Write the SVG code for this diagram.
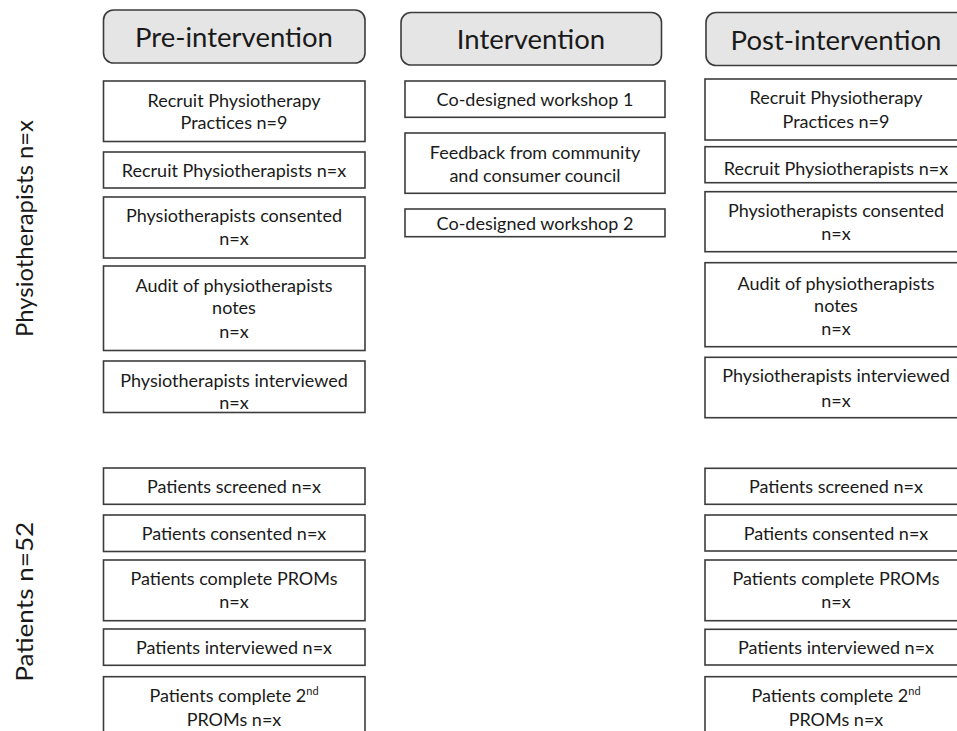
<svg xmlns="http://www.w3.org/2000/svg" width="957" height="731" viewBox="0 0 957 731">
<style>
.bx{fill:#fff;stroke:#3c3c3c;stroke-width:1.6}
.hd{fill:#e5e5e5;stroke:#3c3c3c;stroke-width:1.6}
text{font-family:Lato,"Open Sans",sans-serif;fill:#1a1a1a;text-anchor:middle}
.t{font-size:18px}
.h{font-size:27.5px}
.s{font-size:24px}
.sup{font-size:11px}
</style>
<rect width="957" height="731" fill="#fff"/>
<g id="connectors"></g>
<g id="label-physio"><text class="s" transform="translate(33,228.5) rotate(-90)" textLength="217" lengthAdjust="spacingAndGlyphs">Physiotherapists n=x</text></g>
<g id="label-patients"><text class="s" transform="translate(33,601.7) rotate(-90)" textLength="160" lengthAdjust="spacingAndGlyphs">Patients n=52</text></g>

<g id="pre-header"><rect class="hd" x="103.5" y="10" width="261.5" height="53" rx="10"/><text class="h" x="234" y="46.5">Pre-intervention</text></g>
<g id="pre-1"><rect class="bx" x="103.5" y="81" width="261.5" height="60.5"/><text class="t" x="234" y="106.5">Recruit Physiotherapy</text><text class="t" x="234" y="129">Practices n=9</text></g>
<g id="pre-2"><rect class="bx" x="103.5" y="152" width="261.5" height="36"/><text class="t" x="234" y="176.5">Recruit Physiotherapists n=x</text></g>
<g id="pre-3"><rect class="bx" x="103.5" y="197" width="261.5" height="61"/><text class="t" x="234" y="222">Physiotherapists consented</text><text class="t" x="234" y="245">n=x</text></g>
<g id="pre-4"><rect class="bx" x="103.5" y="266" width="261.5" height="84.5"/><text class="t" x="234" y="291.5">Audit of physiotherapists</text><text class="t" x="234" y="314">notes</text><text class="t" x="234" y="337.5">n=x</text></g>
<g id="pre-5"><rect class="bx" x="103.5" y="361" width="261.5" height="51.5"/><text class="t" x="234" y="386.5">Physiotherapists interviewed</text><text class="t" x="234" y="409">n=x</text></g>
<g id="pre-6"><rect class="bx" x="103.5" y="468" width="261.5" height="36.3"/><text class="t" x="234" y="493">Patients screened n=x</text></g>
<g id="pre-7"><rect class="bx" x="103.5" y="515" width="261.5" height="36.5"/><text class="t" x="234" y="540">Patients consented n=x</text></g>
<g id="pre-8"><rect class="bx" x="103.5" y="560" width="261.5" height="60.7"/><text class="t" x="234" y="585">Patients complete PROMs</text><text class="t" x="234" y="608">n=x</text></g>
<g id="pre-9"><rect class="bx" x="103.5" y="629" width="261.5" height="36.3"/><text class="t" x="234" y="653.5">Patients interviewed n=x</text></g>
<g id="pre-10"><rect class="bx" x="103.5" y="676.7" width="261.5" height="70"/><text class="t" x="234" y="701.5">Patients complete 2<tspan class="sup" dy="-7">nd</tspan></text><text class="t" x="234" y="725.5">PROMs n=x</text></g>

<g id="int-header"><rect class="hd" x="401" y="12.5" width="260.5" height="52.5" rx="10"/><text class="h" x="531" y="48.5">Intervention</text></g>
<g id="int-1"><rect class="bx" x="405" y="81" width="260" height="36.3"/><text class="t" x="535" y="106">Co-designed workshop 1</text></g>
<g id="int-2"><rect class="bx" x="405" y="133" width="260" height="60.3"/><text class="t" x="535" y="158.5">Feedback from community</text><text class="t" x="535" y="181.5">and consumer council</text></g>
<g id="int-3"><rect class="bx" x="405" y="209" width="260" height="27.7"/><text class="t" x="535" y="229.5">Co-designed workshop 2</text></g>

<g id="post-header"><rect class="hd" x="706" y="12.5" width="270" height="53" rx="10"/><text class="h" x="836" y="49.5">Post-intervention</text></g>
<g id="post-1"><rect class="bx" x="705" y="79" width="262" height="61"/><text class="t" x="836" y="104">Recruit Physiotherapy</text><text class="t" x="836" y="127.5">Practices n=9</text></g>
<g id="post-2"><rect class="bx" x="705" y="146.7" width="262" height="36"/><text class="t" x="836" y="175">Recruit Physiotherapists n=x</text></g>
<g id="post-3"><rect class="bx" x="705" y="191.7" width="262" height="60"/><text class="t" x="836" y="216.5">Physiotherapists consented</text><text class="t" x="836" y="240">n=x</text></g>
<g id="post-4"><rect class="bx" x="705" y="262.7" width="262" height="84"/><text class="t" x="836" y="290">Audit of physiotherapists</text><text class="t" x="836" y="312">notes</text><text class="t" x="836" y="335">n=x</text></g>
<g id="post-5"><rect class="bx" x="705" y="357.3" width="262" height="60.4"/><text class="t" x="836" y="382">Physiotherapists interviewed</text><text class="t" x="836" y="406.5">n=x</text></g>
<g id="post-6"><rect class="bx" x="705" y="468.3" width="262" height="36"/><text class="t" x="836" y="493">Patients screened n=x</text></g>
<g id="post-7"><rect class="bx" x="705" y="515" width="262" height="36"/><text class="t" x="836" y="540">Patients consented n=x</text></g>
<g id="post-8"><rect class="bx" x="705" y="560" width="262" height="60.7"/><text class="t" x="836" y="585">Patients complete PROMs</text><text class="t" x="836" y="608">n=x</text></g>
<g id="post-9"><rect class="bx" x="705" y="629.3" width="262" height="35.7"/><text class="t" x="836" y="653.5">Patients interviewed n=x</text></g>
<g id="post-10"><rect class="bx" x="705" y="676.7" width="262" height="70"/><text class="t" x="836" y="701.5">Patients complete 2<tspan class="sup" dy="-7">nd</tspan></text><text class="t" x="836" y="725.5">PROMs n=x</text></g>
</svg>
